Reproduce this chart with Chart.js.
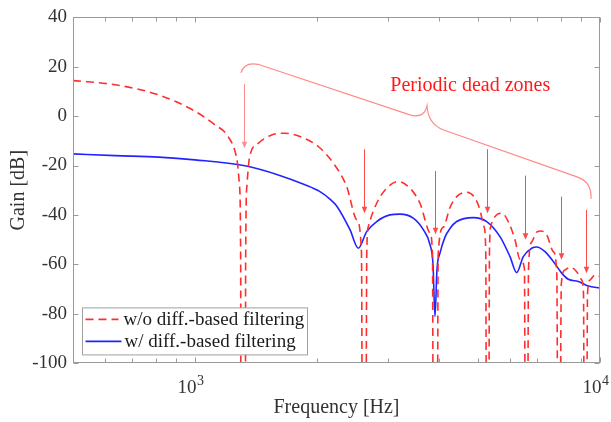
<!DOCTYPE html>
<html><head><meta charset="utf-8">
<script src="https://cdn.jsdelivr.net/npm/chart.js@4.4.1/dist/chart.umd.min.js"></script>
<style>html,body{margin:0;padding:0;background:#fff}#wrap{width:611px;height:422px}</style>
</head><body><div id="wrap"><canvas id="c" width="611" height="422"></canvas></div>
<script>
// ---- data ----
const seriesNames = ['w/o diff.-based filtering', 'w/ diff.-based filtering'];
const freqRed = [500,636,814,1000,1120,1208,1268,1288,1297,1299,1332,1334,1344,1363,1433,1547,1668,1834,2016,2195,2369,2508,2577,2593,2641,2656,2679,2810,2974,3177,3395,3594,3804,3859,3878,3963,3986,4103,4262,4428,4687,4913,5055,5171,5224,5245,5311,5335,5372,5505,5719,5937,6168,6346,6510,6540,6622,6660,6783,6978,7151,7386,7669,7823,7876,7957,8026,8196,8433,8760,9013,9105,9147,9262,9315,9448,9721,10000];
const gainRed = [14.4,12.7,8.6,2.0,-3.5,-8.3,-17,-28,-60,-150,-150,-60,-28,-17,-11,-7.6,-6.9,-8.5,-12.3,-19,-28.5,-42,-55,-150,-150,-55,-44.8,-35.3,-29.2,-26.5,-29.2,-35.3,-47.4,-56,-150,-150,-56,-45,-37,-32.6,-30.8,-33.2,-38,-44.8,-55,-150,-150,-55,-44.8,-40.7,-39.3,-42.7,-50.1,-58,-62,-150,-150,-62,-51,-47,-46.5,-48.1,-54.9,-64,-150,-150,-68,-62.3,-61.2,-63,-66.4,-72,-150,-150,-72,-66.4,-64.3,-65];
const freqBlue = [500,636,814,1000,1329,1606,1869,2035,2154,2238,2414,2531,2654,2810,3030,3208,3459,3662,3804,3870,3914,3959,4027,4143,4262,4428,4866,5251,5664,5995,6228,6466,6783,6978,7315,7669,8044,8351,8840,9357,10000];
const gainBlue = [-15.3,-16.0,-16.6,-17.7,-20.1,-23.8,-27.8,-30.6,-33.6,-36.4,-46,-53.5,-46.8,-42.7,-40,-39.7,-41.3,-46,-52,-60,-81.2,-62,-55.5,-49,-45.5,-42.7,-41.1,-42.7,-48.8,-56.9,-63.4,-56.9,-53.5,-53,-54.9,-58.9,-63.6,-66.1,-67.0,-68.8,-69.7];
const yTickValues = [40,20,0,-20,-40,-60,-80,-100];
const xTickValues = [500,600,700,800,900,1000,2000,3000,4000,5000,6000,7000,8000,9000,10000];
const xTickLabels = [[1000,'10','3'],[10000,'10','4']];
const annotationText = 'Periodic dead zones';
const annotationAnchor = [4784, 10];
// arrows: frequency, start dB, tip dB
const arrowFreqs = [1323,2610,3914,5264,6525,8019,9237];
const arrowFrom  = [13.1,-13.4,-22.2,-13.4,-24.1,-32.6,-38];
const arrowTo    = [-13.0,-39.3,-47.8,-39.3,-50.1,-58.2,-63.6];
// brace outline in data units
const braceSegments = [
  ['M',[1299,17.5]],
  ['Q',[1321,22.0],[1431,21.0]],
  ['L',[3395,0.5]],
  ['Q',[3677,-1.1],[3740,4.2]],
  ['Q',[3761,-3.1],[4096,-5.5]],
  ['L',[8775,-24.6]],
  ['Q',[9556,-26.6],[9502,-33.5]]
];

const SERIF = '"Liberation Serif", "Times New Roman", serif';
const TXT = '#333333';
const AXC = '#9a9a9a';

const overlay = {
  id: 'overlay',
  afterDatasetsDraw(chart) {
    const {ctx, scales: {x, y}} = chart;
    const P = p => [x.getPixelForValue(p[0]), y.getPixelForValue(p[1])];
    ctx.save();
    // brace
    ctx.strokeStyle = '#ff8a8a';
    ctx.lineWidth = 1.2;
    ctx.beginPath();
    braceSegments.forEach(s => {
      if (s[0] === 'M') { const a = P(s[1]); ctx.moveTo(a[0], a[1]); }
      else if (s[0] === 'L') { const a = P(s[1]); ctx.lineTo(a[0], a[1]); }
      else { const c = P(s[1]), e = P(s[2]); ctx.quadraticCurveTo(c[0], c[1], e[0], e[1]); }
    });
    ctx.stroke();
    // arrows
    arrowFreqs.forEach((f, i) => {
      const col = i === 0 ? '#ff8f8f' : '#ff4a4a';
      const xp = Math.round(x.getPixelForValue(f)) + 0.5;
      const y0 = y.getPixelForValue(arrowFrom[i]);
      const y1 = y.getPixelForValue(arrowTo[i]);
      ctx.strokeStyle = col; ctx.fillStyle = col; ctx.lineWidth = 1;
      ctx.beginPath(); ctx.moveTo(xp, y0); ctx.lineTo(xp, y1 - 5); ctx.stroke();
      ctx.beginPath(); ctx.moveTo(xp - 2.8, y1 - 6.5); ctx.lineTo(xp + 2.8, y1 - 6.5); ctx.lineTo(xp, y1); ctx.closePath(); ctx.fill();
    });
    // text
    const t = P(annotationAnchor);
    ctx.fillStyle = '#ff1a1a';
    ctx.font = '20px ' + SERIF;
    ctx.textAlign = 'center'; ctx.textBaseline = 'alphabetic';
    ctx.fillText(annotationText, t[0], t[1]);
    ctx.restore();
  },
  afterDraw(chart) {
    const {ctx, chartArea: ca, scales: {x, y}} = chart;
    ctx.save();
    // box
    ctx.strokeStyle = AXC; ctx.lineWidth = 1;
    const L = Math.round(ca.left) + 0.5, R = Math.round(ca.right) - 0.5, T = Math.round(ca.top) + 0.5, B = Math.round(ca.bottom) - 0.5;
    ctx.strokeRect(L, T, R - L, B - T);
    ctx.beginPath();
    xTickValues.forEach(v => {
      const xp = Math.round(x.getPixelForValue(v)) + 0.5;
      const len = (v === 1000 || v === 10000) ? 5 : 4;
      ctx.moveTo(xp, B); ctx.lineTo(xp, B - len);
      ctx.moveTo(xp, T); ctx.lineTo(xp, T + len);
    });
    yTickValues.forEach(v => {
      const yp = Math.round(y.getPixelForValue(v)) + 0.5;
      ctx.moveTo(L, yp); ctx.lineTo(L + 5, yp);
      ctx.moveTo(R, yp); ctx.lineTo(R - 5, yp);
    });
    ctx.stroke();
    // x tick labels with superscript
    ctx.fillStyle = TXT;
    xTickLabels.forEach(([v, base, ex]) => {
      const xp = x.getPixelForValue(v);
      ctx.font = '19px ' + SERIF; ctx.textAlign = 'right'; ctx.textBaseline = 'alphabetic';
      ctx.fillText(base, xp + 1.5, ca.bottom + 29.5);
      ctx.font = '14px ' + SERIF; ctx.textAlign = 'left';
      ctx.fillText(ex, xp + 2, ca.bottom + 22);
    });
    // legend
    const lx = ca.left + 9.5, ly = ca.top + 290.5, lw = 225, lh = 47;
    ctx.fillStyle = '#ffffff'; ctx.fillRect(lx, ly, lw, lh);
    ctx.strokeStyle = '#a0a0a0'; ctx.lineWidth = 1; ctx.strokeRect(lx, ly, lw, lh);
    const ds = chart.data.datasets;
    const rows = [ly + 11.5, ly + 33.5];
    const lineEnds = [lx + 36, lx + 39];
    ds.forEach((d, i) => {
      ctx.strokeStyle = d.borderColor; ctx.lineWidth = d.borderWidth;
      ctx.setLineDash(d.borderDash || []);
      ctx.beginPath(); ctx.moveTo(lx + 3, rows[i]); ctx.lineTo(lineEnds[i], rows[i]); ctx.stroke();
      ctx.setLineDash([]);
      ctx.fillStyle = '#1a1a1a'; ctx.font = '19px ' + SERIF; ctx.textAlign = 'left'; ctx.textBaseline = 'alphabetic';
      ctx.fillText(d.label, i === 0 ? lx + 41 : lx + 42, rows[i] + 6);
    });
    ctx.restore();
  }
};

const mk = (fs, gs) => fs.map((f, i) => ({x: f, y: gs[i]}));

new Chart(document.getElementById('c'), {
  type: 'line',
  data: {
    datasets: [
      {label: seriesNames[0], data: mk(freqRed, gainRed), borderColor: '#ff2e2e', borderWidth: 1.6, borderDash: [8, 5], pointRadius: 0, fill: false, cubicInterpolationMode: 'monotone'},
      {label: seriesNames[1], data: mk(freqBlue, gainBlue), borderColor: '#2323ff', borderWidth: 1.6, pointRadius: 0, fill: false, cubicInterpolationMode: 'monotone'}
    ]
  },
  options: {
    responsive: false, animation: false, devicePixelRatio: 1,
    layout: {padding: {left: 0, right: 11, top: 17, bottom: 0}},
    plugins: {legend: {display: false}, tooltip: {enabled: false}},
    scales: {
      x: {
        type: 'logarithmic', min: 500, max: 10000,
        afterFit(s) { s.height = 59; },
        grid: {display: false, drawTicks: false}, border: {display: false},
        ticks: {callback: () => '', autoSkip: false},
        title: {display: true, text: 'Frequency [Hz]', color: TXT, font: {family: SERIF, size: 20}, padding: {top: 0, bottom: 2}}
      },
      y: {
        min: -100, max: 40,
        afterFit(s) { s.width = 73; },
        afterBuildTicks(s) { s.ticks = yTickValues.slice().reverse().map(v => ({value: v})); },
        grid: {display: false, drawTicks: false}, border: {display: false},
        ticks: {padding: 6, color: TXT, font: {family: SERIF, size: 19}, callback: v => String(v)},
        title: {display: true, text: 'Gain [dB]', color: TXT, font: {family: SERIF, size: 20}, padding: {top: 7, bottom: 0}}
      }
    }
  },
  plugins: [overlay]
});
</script></body></html>
